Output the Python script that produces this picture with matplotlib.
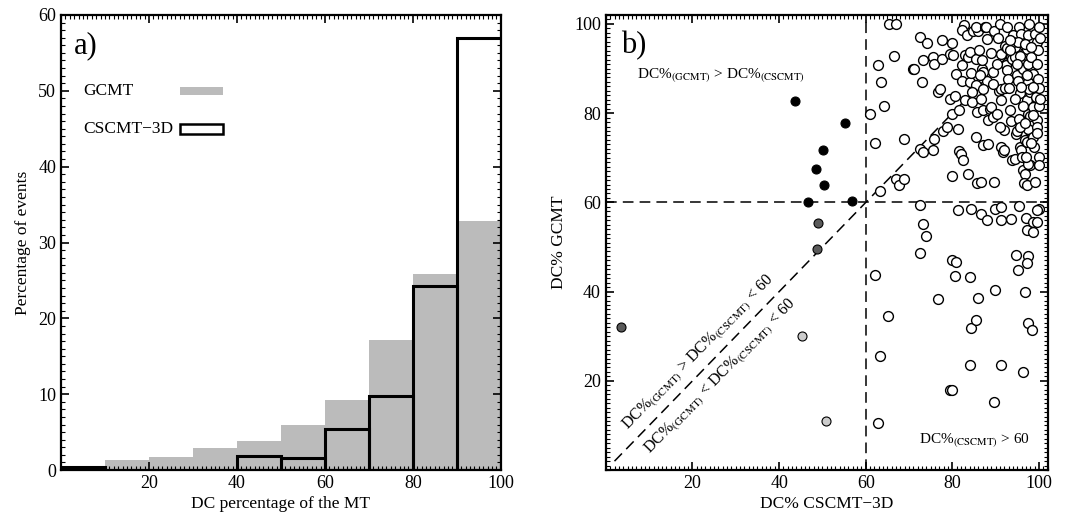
"""Two-panel figure: DC% histogram (a) and GCMT vs CSCMT-3D scatter (b)."""
import matplotlib
matplotlib.use("Agg")
import matplotlib.pyplot as plt
import matplotlib.patches as mpatches
from matplotlib.ticker import MultipleLocator
import numpy as np

plt.rcParams["font.family"] = ["Liberation Serif", "DejaVu Serif"]
plt.rcParams["mathtext.fontset"] = "stix"

# ---- panel a: histogram (percent of events per 10% DC bin)
bin_left = [0, 10, 20, 30, 40, 50, 60, 70, 80, 90]
gcmt_pct = [0.0, 1.3, 1.7, 2.9, 3.8, 6.0, 9.2, 17.1, 25.9, 32.8]
cscmt_pct = [0.4, 0.0, 0.0, 0.0, 1.9, 1.6, 5.4, 9.8, 24.3, 57.0]

# ---- panel b: open circles (DC% CSCMT-3D > 60)
open_x = [
    # lower-right quadrant
    72.5, 62.8, 62.1, 63.2, 65.2, 73.1, 74.0, 72.5, 76.7, 79.4, 79.8, 80.9,
    80.5, 79.8, 81.3, 84.2, 86.6, 84.0, 84.2, 84.0, 85.4, 85.9, 88.0, 89.8,
    89.5, 91.2, 89.8, 91.1, 95.3, 96.9, 94.7, 95.1, 96.3, 99.9, 99.6, 97.1,
    97.5, 97.1, 96.8, 97.5, 98.4, 98.6, 99.5, 98.6, 91.1, 93.6,
    # upper-right quadrant
    61.0, 62.1, 62.9, 63.6, 64.2, 63.2, 65.4, 66.9, 66.5, 67.0, 67.7, 68.8,
    68.8, 70.8, 71.2, 72.6, 73.0, 73.1, 74.2, 72.5, 73.1, 75.5, 75.7, 75.8,
    75.4, 76.7, 77.1, 77.5, 77.5, 77.7, 78.8, 79.4, 79.5, 80.0, 80.2, 80.5,
    80.0, 80.0, 81.3, 80.9, 81.5, 81.5, 81.9, 82.5, 82.1, 82.3, 82.8, 82.8,
    82.6, 82.3, 83.4, 83.6, 83.6, 84.0, 84.2, 84.0, 84.8, 85.9, 84.6, 85.4,
    85.4, 85.4, 85.5, 85.7, 85.7, 86.5, 86.2, 86.5, 86.9, 87.1, 86.7, 87.1,
    87.5, 87.7, 87.1, 87.9, 88.0, 88.2, 88.6, 88.2, 89.0, 89.0, 89.4, 89.5,
    89.4, 89.5, 90.3, 90.5, 90.8, 91.3, 92.1, 90.9, 91.1, 91.3, 91.7, 91.9,
    91.3, 91.9, 92.1, 92.5, 92.3, 92.5, 92.6, 92.8, 93.1, 93.2, 93.4, 93.4,
    93.8, 94.4, 93.8, 94.4, 94.0, 94.4, 94.6, 94.8, 95.0, 95.2, 95.4, 95.5,
    95.4, 95.5, 95.9, 95.9, 96.1, 96.3, 96.3, 96.3, 96.7, 96.5, 96.7, 96.7,
    97.1, 97.1, 97.2, 97.2, 97.5, 97.5, 97.9, 97.7, 97.5, 97.9, 97.7, 97.9,
    97.5, 97.9, 97.5, 97.9, 97.5, 98.2, 98.5, 98.5, 98.6, 98.8, 99.0, 99.0,
    99.2, 99.4, 99.4, 99.5, 99.4, 99.5, 99.8, 99.8, 100.0, 99.9, 99.9, 100.0,
    100.0, 100.2, 100.2,
    94.0, 95.2, 93.2, 96.7, 98.2, 95.5, 94.8, 93.2, 97.1, 95.9, 98.6, 94.4,
    96.3, 98.6, 95.5, 96.7, 98.2, 96.9, 90.2, 89.4, 90.9, 87.1, 84.4, 86.3,
]
open_y = [
    # lower-right quadrant
    59.3, 10.6, 43.8, 25.5, 34.5, 55.1, 52.4, 48.6, 38.4, 17.9, 47.0, 46.6,
    43.4, 17.9, 58.4, 58.5, 57.4, 43.3, 31.9, 23.6, 33.7, 38.6, 56.0, 40.3,
    15.3, 23.5, 58.5, 56.1, 59.1, 56.5, 48.1, 44.9, 22.0, 58.5, 58.3, 53.7,
    47.9, 46.4, 39.9, 33.0, 31.5, 55.6, 55.6, 53.4, 59.0, 56.3,
    # upper-right quadrant
    79.9, 73.2, 90.8, 87.0, 81.7, 62.5, 99.9, 99.9, 92.7, 65.3, 64.0, 65.2,
    74.3, 89.8, 90.0, 97.0, 87.0, 91.8, 95.7, 72.0, 71.3, 92.5, 91.1, 74.3,
    71.8, 84.7, 85.5, 96.3, 92.2, 76.0, 76.9, 93.3, 83.2, 95.7, 93.0, 83.8,
    79.7, 65.8, 76.4, 88.8, 80.6, 71.5, 70.8, 69.6, 87.3, 90.7, 93.0, 82.9,
    99.7, 98.7, 97.4, 92.6, 66.4, 87.0, 89.0, 93.7, 98.4, 98.4, 82.5, 99.4,
    92.2, 74.6, 86.2, 80.3, 64.3, 64.5, 94.2, 83.2, 90.0, 89.2, 92.0, 80.6,
    99.3, 99.4, 72.8, 96.7, 87.3, 78.5, 81.0, 73.1, 81.4, 93.5, 89.2, 98.4,
    79.1, 64.6, 79.9, 96.9, 85.0, 85.5, 85.7, 99.9, 82.9, 72.4, 71.3, 71.8,
    93.3, 76.3, 95.0, 94.7, 90.7, 99.4, 89.6, 87.6, 85.7, 80.6, 78.2, 92.6,
    92.2, 92.6, 69.4, 69.8, 97.4, 94.8, 75.4, 76.0, 88.5, 87.3, 99.4, 84.4,
    78.7, 72.4, 71.7, 97.8, 70.2, 91.1, 90.0, 67.2, 66.4, 64.3, 93.7, 74.0,
    73.5, 64.0, 94.4, 82.9, 97.4, 87.0, 84.7, 85.5, 79.9, 79.3, 99.9, 90.3,
    91.1, 76.1, 76.5, 68.3, 68.7, 92.6, 88.8, 81.4, 74.6, 72.4, 97.8, 64.6,
    83.6, 96.0, 78.4, 77.0, 75.5, 91.1, 94.1, 87.7, 85.7, 81.5, 70.2, 68.3,
    99.4, 96.9, 83.2,
    95.9, 95.9, 96.3, 95.5, 94.8, 92.9, 91.1, 94.1, 88.5, 85.8, 85.8, 83.2,
    81.7, 79.5, 76.9, 77.8, 73.2, 70.2, 91.1, 86.6, 76.9, 85.5, 84.7, 88.5,
]

# filled: GCMT > 60, CSCMT < 60
black_x = [43.6, 55.2, 50.2, 48.5, 50.4, 46.7, 56.8]
black_y = [82.7, 77.8, 71.7, 67.4, 64.0, 60.0, 60.2]
# GCMT > CSCMT, both < 60
dark_x = [49.0, 48.8, 3.6]
dark_y = [55.4, 49.5, 32.1]
# GCMT < CSCMT < 60
light_x = [45.2, 50.9]
light_y = [30.0, 10.9]

fig = plt.figure(figsize=(10.78, 5.16), dpi=100)
ax1 = fig.add_axes([0.0566, 0.089, 0.408, 0.882])
ax2 = fig.add_axes([0.562, 0.089, 0.410, 0.882])


def style_axes(ax):
    for sp in ax.spines.values():
        sp.set_linewidth(1.6)
    ax.tick_params(which="both", direction="in", top=True, right=True,
                   labelsize=13)
    ax.tick_params(which="major", length=6, width=1.2)
    ax.tick_params(which="minor", length=3, width=0.8)


# ---- panel a
ax1.bar(bin_left, gcmt_pct, width=10, align="edge", color="#bbbbbb",
        edgecolor="none", zorder=1)
nz = [i for i, v in enumerate(cscmt_pct) if v > 0]
ax1.bar([bin_left[i] for i in nz], [cscmt_pct[i] for i in nz], width=10,
        align="edge", fill=False, edgecolor="black", linewidth=2.2, zorder=2)
ax1.set_xlim(0, 100)
ax1.set_ylim(0, 60)
ax1.set_xticks([20, 40, 60, 80, 100])
ax1.set_yticks([0, 10, 20, 30, 40, 50, 60])
ax1.xaxis.set_minor_locator(MultipleLocator(1))
ax1.yaxis.set_minor_locator(MultipleLocator(1))
style_axes(ax1)
ax1.set_xlabel("DC percentage of the MT", fontsize=12.5, labelpad=3)
ax1.set_ylabel("Percentage of events", fontsize=12.5, labelpad=5)
ax1.text(0.03, 0.965, "a)", transform=ax1.transAxes, fontsize=22,
         va="top", ha="left")

# hand-placed legend: labels left, keys right
ax1.text(0.05, 0.833, "GCMT", transform=ax1.transAxes, fontsize=12.5,
         ha="left", va="center")
ax1.text(0.05, 0.749, "CSCMT\u22123D", transform=ax1.transAxes, fontsize=12.5,
         ha="left", va="center")
ax1.add_patch(mpatches.Rectangle((0.27, 0.824), 0.098, 0.018,
                                 transform=ax1.transAxes, facecolor="#bbbbbb",
                                 edgecolor="none"))
ax1.add_patch(mpatches.Rectangle((0.27, 0.738), 0.098, 0.022,
                                 transform=ax1.transAxes, facecolor="white",
                                 edgecolor="black", linewidth=1.8))

# ---- panel b
dash = (0, (7, 4))
ax2.plot([60, 60], [0, 102], color="black", lw=1.1, ls=dash, zorder=1)
ax2.plot([0, 102], [60, 60], color="black", lw=1.1, ls=dash, zorder=1)
ax2.plot([2, 100], [2, 100], color="black", lw=1.1, ls=dash, zorder=1)
ax2.scatter(open_x, open_y, s=50, facecolor="white", edgecolor="black",
            linewidth=1.0, zorder=3)
ax2.scatter(black_x, black_y, s=42, facecolor="black", edgecolor="black",
            linewidth=0.8, zorder=3)
ax2.scatter(dark_x, dark_y, s=42, facecolor="#5a5a5a", edgecolor="black",
            linewidth=0.8, zorder=3)
ax2.scatter(light_x, light_y, s=42, facecolor="#cccccc", edgecolor="black",
            linewidth=0.8, zorder=3)
ax2.set_xlim(0, 102)
ax2.set_ylim(0, 102)
ax2.set_xticks([20, 40, 60, 80, 100])
ax2.set_yticks([20, 40, 60, 80, 100])
ax2.xaxis.set_minor_locator(MultipleLocator(1))
ax2.yaxis.set_minor_locator(MultipleLocator(1))
style_axes(ax2)
ax2.set_xlabel("DC% CSCMT\u22123D", fontsize=12.5, labelpad=3)
ax2.set_ylabel("DC% GCMT", fontsize=12.5, labelpad=5)
ax2.text(0.035, 0.965, "b)", transform=ax2.transAxes, fontsize=22,
         va="top", ha="left")
ax2.text(7.2, 88.5, r"DC%$_{\rm (GCMT)}$ > DC%$_{\rm (CSCMT)}$",
         fontsize=11, ha="left", va="center")
ax2.text(72.3, 6.8, r"DC%$_{\rm (CSCMT)}$ > 60", fontsize=11,
         ha="left", va="center")
ax2.text(21.3, 26.3, r"DC%$_{\rm (GCMT)}$ > DC%$_{\rm (CSCMT)}$ < 60",
         fontsize=11.5, ha="center", va="center", rotation=45.8,
         rotation_mode="anchor")
ax2.text(26.4, 21.1, r"DC%$_{\rm (GCMT)}$ < DC%$_{\rm (CSCMT)}$ < 60",
         fontsize=11.5, ha="center", va="center", rotation=45.8,
         rotation_mode="anchor")

fig.savefig("out.png", dpi=100)
